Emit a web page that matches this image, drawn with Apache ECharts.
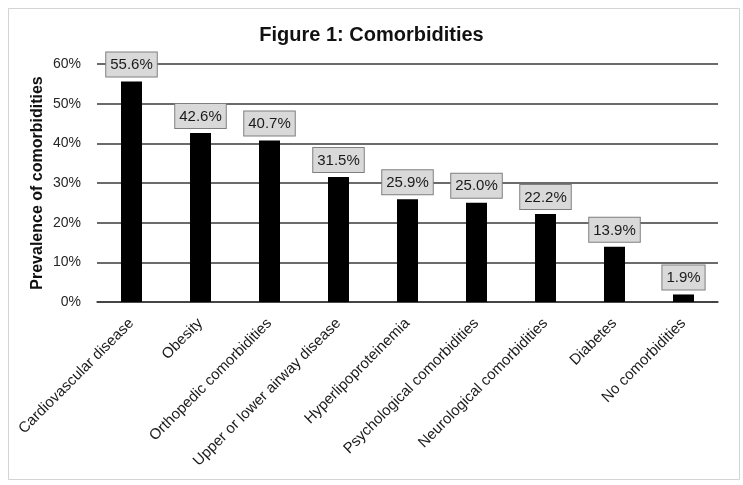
<!DOCTYPE html>
<html>
<head>
<meta charset="utf-8">
<script src="https://cdn.jsdelivr.net/npm/echarts@6/dist/echarts.min.js"></script>
<style>
    html, body { margin: 0; padding: 0; background: #fff; }
    #comorbidity-chart { width: 743px; height: 485px; }
</style>
</head>
<body>
<div id="comorbidity-chart"></div>
<script>
    // categories and prevalence (%)
    const categories = [
        'Cardiovascular disease',
        'Obesity',
        'Orthopedic comorbidities',
        'Upper or lower airway disease',
        'Hyperlipoproteinemia',
        'Psychological comorbidities',
        'Neurological comorbidities',
        'Diabetes',
        'No comorbidities'
    ]
    const prevalence = [55.6, 42.6, 40.7, 31.5, 25.9, 25.0, 22.2, 13.9, 1.9]
    const yTicks = [0, 10, 20, 30, 40, 50, 60]

    const fontFamily = '"Liberation Sans", Arial, sans-serif'

    let chart = echarts.init(document.getElementById('comorbidity-chart'), null, {renderer: 'canvas'})

    let option = {
        backgroundColor: '#ffffff',
        animation: false,
        textStyle: {fontFamily: fontFamily},
        title: {
            text: 'Figure 1: Comorbidities',
            left: 'center',
            top: 20,
            textStyle: {
                fontFamily: fontFamily,
                fontSize: 20,
                fontWeight: 'bold',
                color: '#111'
            }
        },
        // light frame around the whole figure
        graphic: [{
            type: 'rect',
            left: 6,
            top: 6,
            shape: {width: 731, height: 471},
            style: {fill: 'none', stroke: '#d4d4d4', lineWidth: 1},
            silent: true
        }],
        grid: {
            left: 97,
            right: 25,
            top: 64,
            bottom: 183
        },
        xAxis: {
            type: 'category',
            data: categories,
            axisLine: {show: true, lineStyle: {color: '#3a3a3a', width: 1.5}},
            axisTick: {show: false},
            axisLabel: {
                rotate: 45,
                margin: 19,
                interval: 0,
                fontSize: 15,
                color: '#1a1a1a',
                fontFamily: fontFamily
            }
        },
        yAxis: {
            type: 'value',
            min: yTicks[0],
            max: yTicks[yTicks.length - 1],
            interval: 10,
            name: 'Prevalence of comorbidities',
            nameLocation: 'middle',
            nameGap: 51,
            nameMoveOverlap: false,
            nameTextStyle: {
                fontSize: 16,
                fontWeight: 'bold',
                color: '#111',
                fontFamily: fontFamily
            },
            axisLine: {show: false},
            axisTick: {show: false},
            axisLabel: {
                margin: 16,
                fontSize: 14,
                color: '#262626',
                fontFamily: fontFamily,
                formatter: value => value + '%'
            },
            splitLine: {lineStyle: {color: '#3a3a3a', width: 1.5}}
        },
        series: [{
            name: 'Prevalence',
            type: 'bar',
            data: prevalence,
            barWidth: 21,
            itemStyle: {color: '#000000'},
            label: {
                show: true,
                position: 'top',
                distance: 5,
                formatter: params => params.value.toFixed(1) + '%',
                fontSize: 15,
                color: '#1a1a1a',
                fontFamily: fontFamily,
                backgroundColor: '#d9d9d9',
                borderColor: '#7f7f7f',
                borderWidth: 1,
                padding: [5, 4, 4, 4]
            }
        }]
    }

    chart.setOption(option)
</script>
</body>
</html>
